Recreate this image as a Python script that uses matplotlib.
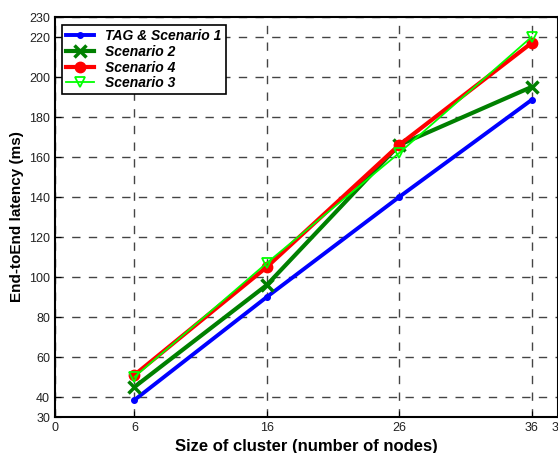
import matplotlib
matplotlib.use("Agg")
import matplotlib.pyplot as plt

plt.rcParams['font.family'] = ['Liberation Sans', 'DejaVu Sans']

nodes = [6, 16, 26, 36]
tag_s1 = [38.5, 90, 140, 188.5]
scen2 = [45, 96, 166, 195]
scen4 = [51, 105, 166, 217]
scen3 = [50, 107, 162, 220]

xticks = [0, 6, 16, 26, 36, 38]
yticks = [30, 40, 60, 80, 100, 120, 140, 160, 180, 200, 220, 230]

fig = plt.figure(figsize=(5.58, 4.53), dpi=100)
ax = fig.add_axes([55 / 558, 36 / 453, 503 / 558, 400 / 453])

ax.plot(nodes, tag_s1, color="blue", lw=2.8, marker=".", ms=8, label="TAG & Scenario 1")
ax.plot(nodes, scen2, color="green", lw=3, marker="x", ms=8, mew=2.5, label="Scenario 2")
ax.plot(nodes, scen4, color="red", lw=3, marker="o", ms=7.5, label="Scenario 4")
ax.plot(nodes, scen3, color="lime", lw=1.3, marker="v", ms=7.5, mfc="none", mew=1.3, label="Scenario 3")

ax.set_xlim(0, 38)
ax.set_ylim(30, 230)
ax.set_xticks(xticks)
ax.set_yticks(yticks)
ax.tick_params(direction="in", labelsize=9, length=4, labelcolor="#222222")
ax.grid(True, color="#444444", linestyle=(0, (6, 6)), lw=1)
for s in ax.spines.values():
    s.set_linewidth(1.5)

ax.set_xlabel("Size of cluster (number of nodes)", fontsize=12, fontweight="bold")
ax.set_ylabel("End-toEnd latency (ms)", fontsize=11, fontweight="bold")

leg = ax.legend(loc="upper left", bbox_to_anchor=(0.014, 0.98), borderaxespad=0,
                fancybox=False, framealpha=1, edgecolor="black", borderpad=0.3,
                labelspacing=0.12, handlelength=2.0, handletextpad=0.8,
                prop={"weight": "heavy", "style": "italic", "size": 10})
leg.get_frame().set_linewidth(1.2)

fig.savefig("out.png", dpi=100)
